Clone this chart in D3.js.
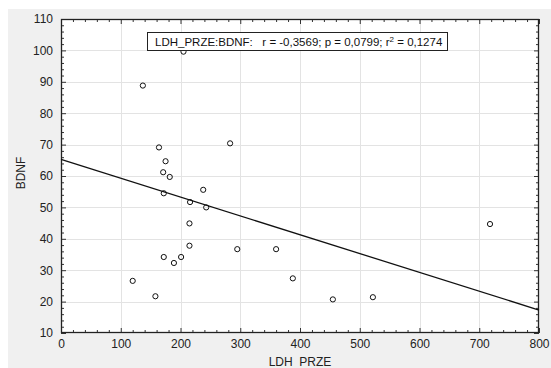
<!DOCTYPE html>
<html lang="en">
<head>
  <meta charset="UTF-8">
  <title>LDH_PRZE vs BDNF</title>
  <script src="https://cdn.jsdelivr.net/npm/d3@7/dist/d3.min.js"></script>
  <style>
    body { margin: 0; background: #fff; }
    svg { display: block; font-family: Arial, "Liberation Sans", sans-serif; }
  </style>
</head>
<body>
<script>
  // values
  const ldh = [137, 205, 164, 283, 175, 171, 182, 238, 172, 216, 243, 215, 215, 295, 360, 172, 201, 189, 120, 158, 718, 388, 455, 522];
  const bdnf = [88.8, 99.6, 69.1, 70.4, 64.7, 61.2, 59.7, 55.6, 54.5, 51.7, 50.0, 44.9, 37.8, 36.7, 36.7, 34.2, 34.2, 32.3, 26.6, 21.7, 44.7, 27.4, 20.7, 21.4];
  const xTicks = [0, 100, 200, 300, 400, 500, 600, 700, 800];
  const yTicks = [10, 20, 30, 40, 50, 60, 70, 80, 90, 100, 110];
  // fitted line as shown: BDNF = a + b * LDH
  const fitA = 65.3, fitB = -0.06;

  const W = 551, H = 368;
  const m = { left: 61, top: 19, right: 539, bottom: 333 };

  const svg = d3.select('body').append('svg')
    .attr('width', W)
    .attr('height', H);

  // gray panel
  svg.append('rect')
    .attr('x', 8).attr('y', 9)
    .attr('width', W - 8).attr('height', H - 9)
    .attr('fill', '#f0f0f0');

  const x = d3.scaleLinear().domain([0, 800]).range([m.left, m.right]);
  const y = d3.scaleLinear().domain([10, 110]).range([m.bottom, m.top]);

  // plot area
  svg.append('rect')
    .attr('x', m.left).attr('y', m.top)
    .attr('width', m.right - m.left).attr('height', m.bottom - m.top)
    .attr('fill', '#fff');

  // grid
  const grid = svg.append('g').attr('stroke', '#e3e3e3').attr('stroke-width', 1);
  grid.selectAll('.gx').data(xTicks.slice(1, -1)).enter().append('line')
    .attr('x1', d => Math.round(x(d)) + 0.5).attr('x2', d => Math.round(x(d)) + 0.5)
    .attr('y1', m.top).attr('y2', m.bottom);
  grid.selectAll('.gy').data(yTicks.slice(1, -1)).enter().append('line')
    .attr('y1', d => Math.round(y(d)) + 0.5).attr('y2', d => Math.round(y(d)) + 0.5)
    .attr('x1', m.left).attr('x2', m.right);

  // axes with inward ticks
  const minorX = d3.range(0, 801, 20).filter(v => v % 100 !== 0);
  const minorY = d3.range(10, 111, 2).filter(v => v % 10 !== 0);

  function tickAxis(axis, sel) {
    sel.call(axis);
    sel.select('.domain').remove();
    sel.selectAll('line').attr('stroke', '#333');
  }

  const gB = svg.append('g').attr('transform', `translate(0,${m.bottom})`);
  tickAxis(d3.axisBottom(x).tickValues(xTicks).tickSize(-5).tickPadding(6).tickFormat(d3.format('d')), gB);
  gB.append('g').call(g => tickAxis(d3.axisBottom(x).tickValues(minorX).tickSize(-3).tickFormat(''), g));

  const gT = svg.append('g').attr('transform', `translate(0,${m.top})`);
  tickAxis(d3.axisTop(x).tickValues(xTicks).tickSize(-5).tickFormat(''), gT);
  gT.append('g').call(g => tickAxis(d3.axisTop(x).tickValues(minorX).tickSize(-3).tickFormat(''), g));

  const gL = svg.append('g').attr('transform', `translate(${m.left},0)`);
  tickAxis(d3.axisLeft(y).tickValues(yTicks).tickSize(-5).tickPadding(8).tickFormat(d3.format('d')), gL);
  gL.append('g').call(g => tickAxis(d3.axisLeft(y).tickValues(minorY).tickSize(-3).tickFormat(''), g));

  const gR = svg.append('g').attr('transform', `translate(${m.right},0)`);
  tickAxis(d3.axisRight(y).tickValues(yTicks).tickSize(-5).tickFormat(''), gR);
  gR.append('g').call(g => tickAxis(d3.axisRight(y).tickValues(minorY).tickSize(-3).tickFormat(''), g));

  svg.selectAll('.tick text')
    .attr('font-size', 12)
    .attr('font-family', 'Arial, "Liberation Sans", sans-serif')
    .attr('fill', '#222');

  // frame
  svg.append('rect')
    .attr('x', m.left + 0.5).attr('y', m.top + 0.5)
    .attr('width', m.right - m.left - 1).attr('height', m.bottom - m.top - 1)
    .attr('fill', 'none').attr('stroke', '#222').attr('stroke-width', 1.3);

  // regression line
  svg.append('line')
    .attr('x1', x(0)).attr('y1', y(fitA))
    .attr('x2', x(800)).attr('y2', y(fitA + fitB * 800))
    .attr('stroke', '#111').attr('stroke-width', 1.3);

  // points
  const pts = ldh.map((v, i) => ({ x: v, y: bdnf[i] }));
  svg.selectAll('.pt').data(pts).enter().append('circle')
    .attr('cx', d => x(d.x)).attr('cy', d => y(d.y))
    .attr('r', 2.6)
    .attr('fill', 'none').attr('stroke', '#111').attr('stroke-width', 1);

  // stats label
  svg.append('rect')
    .attr('x', 147.5).attr('y', 32.5).attr('width', 300).attr('height', 18)
    .attr('fill', '#fff').attr('stroke', '#222').attr('stroke-width', 1);
  const t = svg.append('text')
    .attr('x', 155).attr('y', 45.5)
    .attr('font-size', 11.5).attr('fill', '#111')
    .attr('xml:space', 'preserve');
  t.append('tspan').text('LDH_PRZE:BDNF:   r = -0,3569; p = 0,0799; r');
  t.append('tspan').attr('font-size', 8).attr('dy', -4).text('2');
  t.append('tspan').attr('dy', 4).text(' = 0,1274');

  // axis titles
  svg.append('text')
    .attr('x', x(400)).attr('y', 366)
    .attr('text-anchor', 'middle').attr('font-size', 12).attr('fill', '#222')
    .text('LDH_PRZE');
  svg.append('text')
    .attr('transform', 'translate(25,173) rotate(-90)')
    .attr('text-anchor', 'middle').attr('font-size', 12).attr('fill', '#222')
    .text('BDNF');
</script>
</body>
</html>
